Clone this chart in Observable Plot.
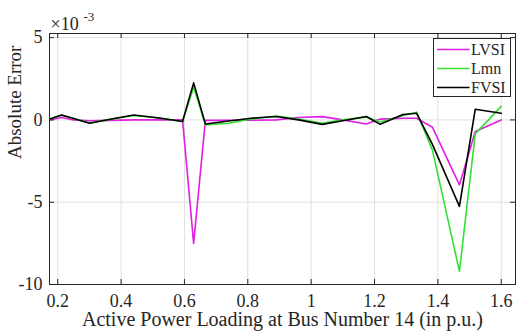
<!DOCTYPE html>
<html><head><meta charset="utf-8">
<script src="https://cdn.jsdelivr.net/npm/d3@7"></script>
<script src="https://cdn.jsdelivr.net/npm/@observablehq/plot@0.6"></script>
<style>html,body{margin:0;padding:0;background:#fff} svg{display:block}</style>
</head><body><div id="chart"></div>
<script>
// Active power loading at bus 14 (p.u.)
const loading = [0.175, 0.212, 0.25, 0.30, 0.37, 0.44, 0.52, 0.594, 0.629, 0.666, 0.74, 0.81, 0.89, 0.96, 1.035, 1.10, 1.174, 1.218, 1.29, 1.333, 1.383, 1.468, 1.518, 1.60];
// Absolute error (x 10^-3)
const lvsi = [0.0, 0.15, 0.0, -0.05, -0.03, 0.0, 0.0, 0.0, -7.5, -0.03, -0.02, -0.02, 0.0, 0.15, 0.2, 0.0, -0.25, 0.05, 0.1, 0.1, -0.45, -3.95, -0.7, 0.0];
const lmn  = [0.05, 0.28, 0.08, -0.18, 0.05, 0.27, 0.12, -0.1, 2.0, -0.3, -0.2, 0.05, 0.23, 0.05, -0.2, 0.0, 0.17, -0.13, 0.27, 0.47, -1.85, -9.2, -0.85, 0.82];
const fvsi = [0.05, 0.3, 0.08, -0.2, 0.05, 0.3, 0.12, -0.1, 2.25, -0.25, -0.07, 0.1, 0.21, 0.0, -0.27, -0.05, 0.21, -0.27, 0.33, 0.4, -1.5, -5.25, 0.65, 0.4];

const seriesNames = ["LVSI", "Lmn", "FVSI"];
const seriesColors = ["#e21ee2", "#33e033", "#000000"];
const xTicks = [0.2, 0.4, 0.6, 0.8, 1, 1.2, 1.4, 1.6];
const yTicks = [-10, -5, 0, 5];
const xLabel = "Active Power Loading at Bus Number 14 (in p.u.)";
const yLabel = "Absolute Error";
const xDomain = [0.174, 1.645];
const yDomain = [-10, 5.25];

const seriesValues = [lvsi, lmn, fvsi];
const rows = seriesNames.flatMap((name, i) => loading.map((x, j) => ({series: name, x, y: seriesValues[i][j]})));

const font = "'Liberation Serif', 'Times New Roman', serif";
const frameColor = "#262626";
const dx5 = 5 * (xDomain[1] - xDomain[0]) / (516 - 1 - 49);
const dy5 = 5 * (yDomain[1] - yDomain[0]) / (332 - 33 - 48);

const svg = Plot.plot({
  width: 516, height: 332,
  marginLeft: 49, marginRight: 1, marginTop: 33, marginBottom: 48,
  style: {fontFamily: font, background: "#fff", color: "#262626"},
  x: {domain: xDomain},
  y: {domain: yDomain},
  color: {domain: seriesNames, range: seriesColors},
  marks: [
    Plot.gridX(xTicks, {stroke: "#e0e0e0", strokeOpacity: 1}),
    Plot.gridY(yTicks, {stroke: "#e0e0e0", strokeOpacity: 1}),
    Plot.line(rows, {x: "x", y: "y", z: "series", stroke: "series", strokeWidth: 1.6}),
    Plot.frame({stroke: frameColor}),
    Plot.ruleX(xTicks, {x: d => d, y1: yDomain[0], y2: yDomain[0] + dy5, stroke: frameColor}),
    Plot.ruleX(xTicks, {x: d => d, y1: yDomain[1], y2: yDomain[1] - dy5, stroke: frameColor}),
    Plot.ruleY(yTicks, {y: d => d, x1: xDomain[0], x2: xDomain[0] + dx5, stroke: frameColor}),
    Plot.ruleY(yTicks, {y: d => d, x1: xDomain[1], x2: xDomain[1] - dx5, stroke: frameColor}),
    Plot.axisX(xTicks, {tickSize: 0, tickPadding: 10, fontSize: 18, tickFormat: d => String(d), label: null}),
    Plot.axisY(yTicks, {tickSize: 0, tickPadding: 7, fontSize: 18, tickFormat: d => String(d), label: null}),
    Plot.text([xLabel], {frameAnchor: "bottom", dy: 41, fontSize: 20, fill: "#262626"}),
    Plot.text([yLabel], {frameAnchor: "left", dx: -35, rotate: -90, fontSize: 19, fill: "#262626"}),
    Plot.text(["\u00d710"], {frameAnchor: "top-left", textAnchor: "start", lineAnchor: "bottom", dx: 1, dy: -4, fontSize: 18, fill: "#262626"}),
    Plot.text(["-3"], {frameAnchor: "top-left", textAnchor: "start", lineAnchor: "bottom", dx: 34, dy: -13, fontSize: 13, fill: "#262626"})
  ]
});

// Legend box (top right, inside the axes)
const g = d3.select(svg).append("g").attr("font-family", font).attr("font-size", 16).attr("text-anchor", "start");
g.append("rect").attr("x", 433.5).attr("y", 38.5).attr("width", 77).attr("height", 58)
  .attr("fill", "#fff").attr("stroke", frameColor);
seriesNames.forEach((name, i) => {
  const yy = 49.5 + i * 19;
  g.append("line").attr("x1", 437).attr("x2", 469.5).attr("y1", yy).attr("y2", yy)
    .attr("stroke", seriesColors[i]).attr("stroke-width", 1.6);
  g.append("text").attr("x", 471).attr("y", yy).attr("dy", "0.35em").attr("fill", "#262626").text(name);
});

document.getElementById("chart").appendChild(svg);
</script>
</body></html>
